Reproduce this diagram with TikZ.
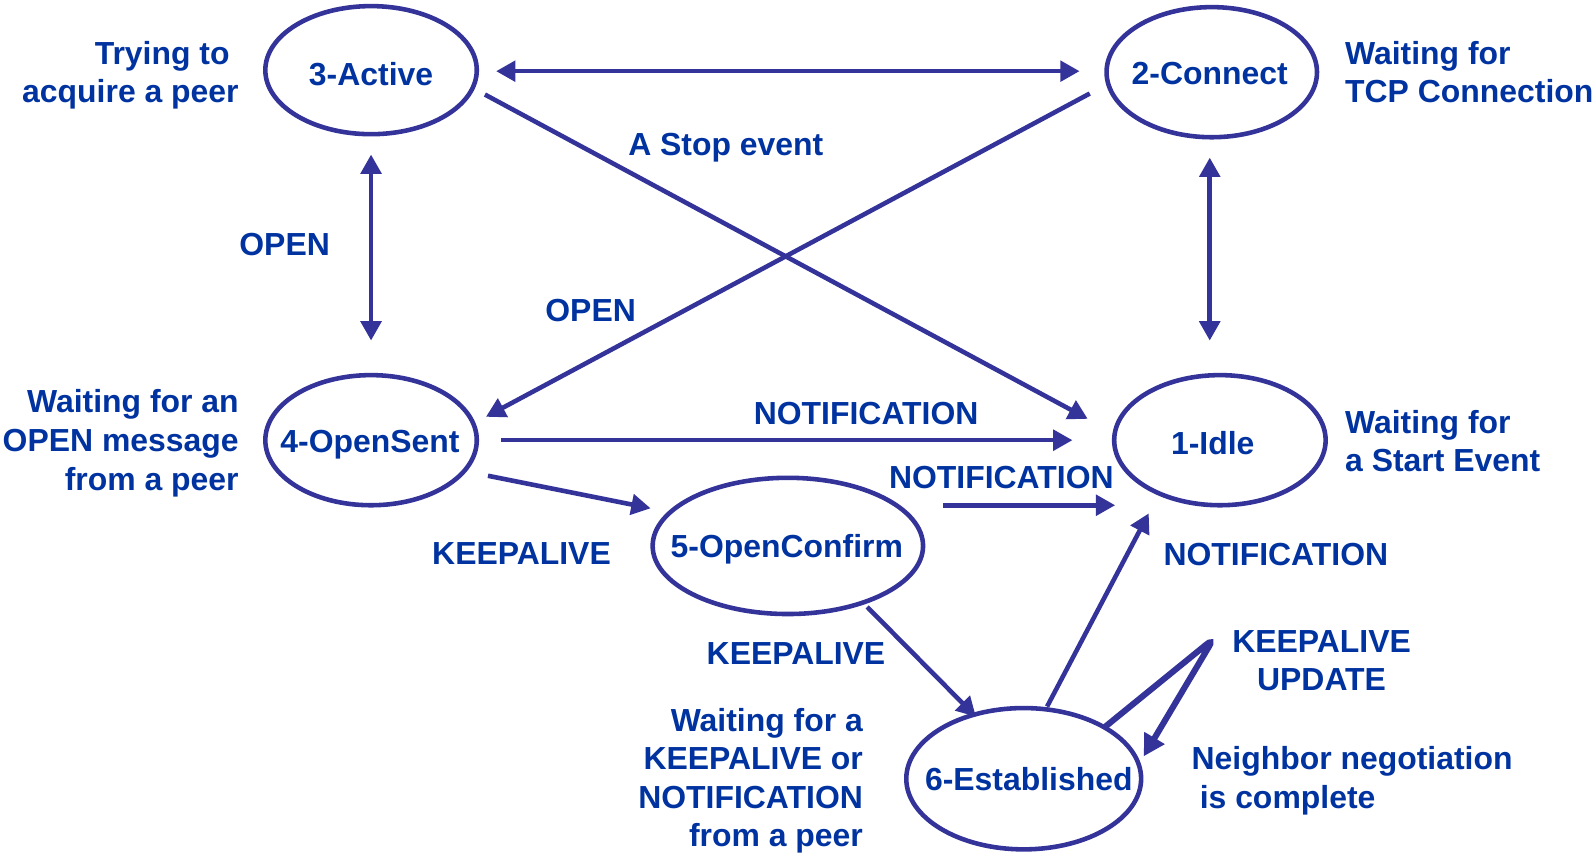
\documentclass[tikz,border=0pt]{standalone}
\usepackage{fontspec}
\setmainfont{Liberation Sans}
\usetikzlibrary{arrows.meta,shapes.geometric}
\definecolor{edgeblue}{RGB}{51,51,153}
\definecolor{textblue}{RGB}{0,51,160}

\begin{document}
\begin{tikzpicture}[x=1pt,y=-1pt,
  every node/.style={font=\fontsize{31.4}{38}\selectfont\bfseries, text=textblue, inner sep=0pt},
  state/.style={ellipse, draw=edgeblue, line width=4.5pt, inner sep=0pt},
  link/.style={draw=edgeblue, line width=4.5pt, -{Triangle[length=19pt,width=20pt]}},
  twoway/.style={draw=edgeblue, line width=4.5pt, {Triangle[length=19pt,width=20pt]}-{Triangle[length=19pt,width=20pt]}},
  lbl/.style={anchor=base},
]
\useasboundingbox (0,0) rectangle (1568,839);

% BGP finite state machine: the six states
\node[state, minimum width=208pt, minimum height=126pt] (active)  at (365,69)  {};
\node[state, minimum width=207pt, minimum height=128pt] (connect) at (1192,71) {};
\node[state, minimum width=208pt, minimum height=128pt] (opensent) at (365,433) {};
\node[state, minimum width=208pt, minimum height=128pt] (idle)    at (1200,433) {};
\node[state, minimum width=266pt, minimum height=134pt] (confirm) at (775,537) {};
\node[state, minimum width=231pt, minimum height=139pt] (estab)   at (1007,766) {};

\node[lbl] (activeT)  at (365,84)   {3-Active};
\node[lbl] (connectT) at (1190,83)  {2-Connect};
\node[lbl] (opensentT) at (364,445) {4-OpenSent};
\node[lbl] (idleT)    at (1193,447) {1-Idle};
\node[lbl] (confirmT) at (774,548)  {5-OpenConfirm};
\node[lbl] (estabT)   at (1012,778) {6-Established};

% transitions
\draw[twoway] ([shift={(123,1)}]active.center) -- ([shift={(-130,-1)}]connect.center);
\draw[twoway] ([shift={(0,83)}]active.center) -- ([shift={(0,-98)}]opensent.center);
\draw[twoway] ([shift={(-2,84)}]connect.center) -- ([shift={(-10,-98)}]idle.center);
\draw[link] ([shift={(-120,21)}]connect.center) -- ([shift={(113,-23)}]opensent.center);
\draw[link] ([shift={(112,24)}]active.center) -- ([shift={(-130,-21)}]idle.center);
\draw[link] ([shift={(128,0)}]opensent.center) -- ([shift={(-145,0)}]idle.center);
\draw[link] ([shift={(115,35)}]opensent.center) -- ([shift={(-135,-37)}]confirm.center);
\draw[link] ([shift={(153,-40)}]confirm.center) -- ([shift={(-103,64)}]idle.center);
\draw[link] ([shift={(23,-71)}]estab.center) -- ([shift={(-70,72)}]idle.center);
\draw[link] ([shift={(78,60)}]confirm.center) -- ([shift={(-47,-61)}]estab.center);
\coordinate (loopapex) at (1194,628);
\draw[draw=edgeblue, line width=6pt, rounded corners=9pt, -{Triangle[length=21pt,width=22pt]}]
  ([shift={(80,-51)}]estab.center) -- (loopapex) -- ([shift={(118,-22)}]estab.center);

% event labels
\node[lbl] (stopL)  at (714,153) {A Stop event};
\node[lbl] (openA)  at (280,251) {OPEN};
\node[lbl] (openB)  at (581,316) {OPEN};
\node[lbl] (notA)   at (852,418) {NOTIFICATION};
\node[lbl] (notB)   at (985,481) {NOTIFICATION};
\node[lbl] (notC)   at (1255,556) {NOTIFICATION};
\node[lbl] (kaA)    at (513,555) {KEEPALIVE};
\node[lbl] (kaB)    at (783,654) {KEEPALIVE};
\node[align=center] (kaU) at (1300,650) {KEEPALIVE\\UPDATE};

% state descriptions
\node[align=right, anchor=east] (dActive) at (235,74) {Trying to\hspace*{9pt}\\acquire a peer};
\node[align=left, anchor=west] (dConnect) at (1323,71) {Waiting for\\TCP Connection};
\node[align=right, anchor=east] (dOpenSent) at (235,436) {Waiting for an\\OPEN message\\from a peer};
\node[align=left, anchor=west] (dIdle) at (1323,434) {Waiting for\\a Start Event};
\node[align=left, anchor=west] (dEstab) at (1172,768) {Neighbor negotiation\\\hspace*{8pt}is complete};
\node[align=right, anchor=east] (dConfirm) at (849,768) {Waiting for a\\KEEPALIVE or\\NOTIFICATION\\from a peer};
\end{tikzpicture}
\end{document}
